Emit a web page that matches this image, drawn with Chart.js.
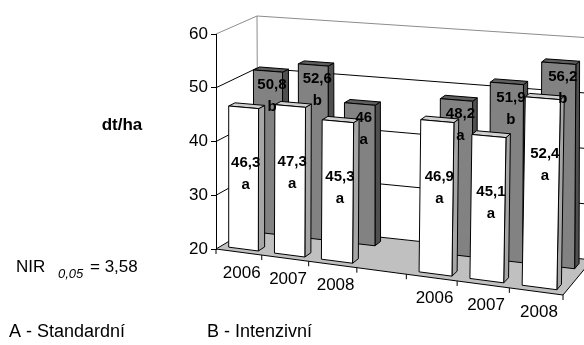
<!DOCTYPE html>
<html>
<head>
<meta charset="utf-8">
<script src="https://cdn.jsdelivr.net/npm/chart.js@4.4.1/dist/chart.umd.min.js"></script>
<style>
  html, body { margin: 0; padding: 0; background: #fff; }
  #chart { display: block; }
</style>
</head>
<body>
<canvas id="chart" width="584" height="345"></canvas>
<script>
// slots along the floor: two groups of years with an empty slot between them
const years = ["2006", "2007", "2008", "", "2006", "2007", "2008"];
const frontValues = [46.3, 47.3, 45.3, null, 46.9, 45.1, 52.4];
const backValues = [50.8, 52.6, 46, null, 48.2, 51.9, 56.2];
const frontLetters = ["a", "a", "a", null, "a", "a", "a"];
const backLetters = ["b", "b", "a", null, "a", "b", "b"];
const yTicks = [20, 30, 40, 50, 60];

const FONT = "'Liberation Sans', Arial, sans-serif";

// rough perspective of the 3D box (screen corners of the plot cube)
const WARP = 0.911;
function corners(area) {
  return {
    flb: [area.left, area.bottom], flt: [area.left, area.top],
    frb: [563, 295], frt: [568, 58],
    blb: [258, 224], blt: [257, 16],
    brb: [592, 260], brt: [592, 38]
  };
}
function lerp(a, b, s) {
  return [a[0] + (b[0] - a[0]) * s, a[1] + (b[1] - a[1]) * s];
}
function project(c, u, t, z) {
  const p = u * WARP / (1 + (WARP - 1) * u);
  const front = lerp(lerp(c.flb, c.frb, p), lerp(c.flt, c.frt, p), t);
  const back = lerp(lerp(c.blb, c.brb, p), lerp(c.blt, c.brt, p), t);
  return lerp(front, back, z);
}
function toU(area, px) { return (px - area.left) / (area.right - area.left); }
function toT(area, py) {
  const t = (area.bottom - py) / (area.bottom - area.top);
  return Math.min(1, Math.max(0, t));
}

function poly(ctx, pts, fill, stroke) {
  ctx.beginPath();
  pts.forEach((p, i) => (i ? ctx.lineTo(p[0], p[1]) : ctx.moveTo(p[0], p[1])));
  ctx.closePath();
  if (fill) { ctx.fillStyle = fill; ctx.fill(); }
  if (stroke) { ctx.strokeStyle = stroke; ctx.lineWidth = 1; ctx.stroke(); }
}
function line(ctx, pts, color) {
  ctx.beginPath();
  pts.forEach((p, i) => (i ? ctx.lineTo(p[0], p[1]) : ctx.moveTo(p[0], p[1])));
  ctx.strokeStyle = color;
  ctx.lineWidth = 1;
  ctx.stroke();
}

const ROWS = [
  { z0: 0.115, z1: 0.27, front: "#ffffff", top: "#d0d0d0", side: "#a6a6a6", dy: 56 },
  { z0: 0.72, z1: 0.87, front: "#828282", top: "#5e5e5e", side: "#4f4f4f", dy: 14, dx: 4 }
];
const letterSets = [frontLetters, backLetters];

function barBoxes(chart, idx) {
  const area = chart.chartArea;
  const row = ROWS[idx];
  const out = [];
  chart.getDatasetMeta(idx).data.forEach((bar, i) => {
    const v = chart.data.datasets[idx].data[i];
    if (v == null) return;
    const p = bar.getProps(["x", "y", "base", "width"], true);
    out.push({
      i, v,
      u0: toU(area, p.x - p.width / 2), u1: toU(area, p.x + p.width / 2),
      t0: toT(area, p.base), t1: toT(area, p.y),
      z0: row.z0, z1: row.z1
    });
  });
  return out;
}

const box3d = {
  id: "box3d",
  beforeDraw(chart) {
    const ctx = chart.ctx, area = chart.chartArea, c = corners(area);
    const P = (u, t, z) => project(c, u, t, z);
    ctx.save();
    poly(ctx, [P(0, 0, 0), P(1, 0, 0), P(1, 0, 1), P(0, 0, 1)], "#c0c0c0");
    poly(ctx, [P(0, 0, 1), P(1, 0, 1), P(1, 1, 1), P(0, 1, 1)], "#ffffff");
    poly(ctx, [P(0, 0, 0), P(0, 0, 1), P(0, 1, 1), P(0, 1, 0)], "#ffffff");
    const ys = chart.scales.y;
    ys.ticks.forEach(tk => {
      const t = toT(area, ys.getPixelForValue(tk.value));
      line(ctx, [P(0, t, 0), P(0, t, 1), P(1, t, 1)], t > 0.999 ? "#8c8c8c" : "#000");
    });
    line(ctx, [P(0, 1, 1), P(0, 0, 1)], "#8c8c8c");
    line(ctx, [P(0, 0, 0), P(1, 0, 0), P(1, 0, 1)], "#000");
    const xs = chart.scales.x;
    for (let i = 0; i <= years.length; i++) {
      const q = P(toU(area, xs.getPixelForValue(i - 0.5)), 0, 0);
      line(ctx, [q, [q[0], q[1] + 5]], "#000");
    }
    ctx.restore();
  },
  afterDatasetsDraw(chart) {
    const ctx = chart.ctx, c = corners(chart.chartArea);
    const P = (u, t, z) => project(c, u, t, z);
    ctx.save();
    ctx.lineJoin = "round";
    [1, 0].forEach(idx => {
      const row = ROWS[idx];
      barBoxes(chart, idx).forEach(b => {
        poly(ctx, [P(b.u1, b.t0, b.z0), P(b.u1, b.t0, b.z1), P(b.u1, b.t1, b.z1), P(b.u1, b.t1, b.z0)], row.side, "#000");
        poly(ctx, [P(b.u0, b.t1, b.z0), P(b.u1, b.t1, b.z0), P(b.u1, b.t1, b.z1), P(b.u0, b.t1, b.z1)], row.top, "#000");
        poly(ctx, [P(b.u0, b.t0, b.z0), P(b.u1, b.t0, b.z0), P(b.u1, b.t1, b.z0), P(b.u0, b.t1, b.z0)], row.front, "#000");
      });
    });
    ctx.restore();
  },
  afterDraw(chart) {
    const ctx = chart.ctx, area = chart.chartArea, c = corners(area);
    const P = (u, t, z) => project(c, u, t, z);
    ctx.save();
    ctx.fillStyle = "#000";
    ctx.textBaseline = "middle";
    ctx.textAlign = "center";
    // bar value labels
    ctx.font = "bold 15px " + FONT;
    [1, 0].forEach(idx => {
      const row = ROWS[idx];
      barBoxes(chart, idx).forEach(b => {
        const a = P(b.u0, b.t1, b.z0), e = P(b.u1, b.t1, b.z0);
        const x = (a[0] + e[0]) / 2 + (row.dx || 2);
        const y = (a[1] + e[1]) / 2 + row.dy;
        ctx.fillText(String(b.v).replace(".", ","), x, y);
        ctx.fillText(letterSets[idx][b.i], x, y + 22);
      });
    });
    // category labels along the slanted front edge
    ctx.font = "17px " + FONT;
    const xs = chart.scales.x;
    chart.data.labels.forEach((lab, i) => {
      if (!lab) return;
      const q = P(toU(area, xs.getPixelForValue(i)), 0, 0);
      ctx.fillText(lab, q[0] + 3, q[1] + 21);
    });
    // side texts
    ctx.font = "bold 17px " + FONT;
    ctx.fillText("dt/ha", 122, 125);
    ctx.textAlign = "left";
    ctx.font = "17px " + FONT;
    ctx.fillText("NIR", 16, 267);
    ctx.font = "italic 13px " + FONT;
    ctx.fillText("0,05", 58, 274);
    ctx.font = "17px " + FONT;
    ctx.fillText("= 3,58", 90, 267);
    ctx.font = "18px " + FONT;
    ctx.fillText("A - Standardní", 9, 332);
    ctx.fillText("B - Intenzivní", 207, 332);
    ctx.restore();
  }
};

new Chart(document.getElementById("chart"), {
  type: "bar",
  data: {
    labels: years,
    datasets: [
      { label: "front", data: frontValues, grouped: false, backgroundColor: "rgba(0,0,0,0)", borderWidth: 0 },
      { label: "back", data: backValues, grouped: false, backgroundColor: "rgba(0,0,0,0)", borderWidth: 0 }
    ]
  },
  options: {
    responsive: false,
    animation: false,
    devicePixelRatio: 1,
    events: [],
    layout: { padding: { left: 0, top: 34, right: 21, bottom: 96 } },
    datasets: { bar: { barPercentage: 0.65, categoryPercentage: 1 } },
    plugins: { legend: { display: false }, tooltip: { enabled: false } },
    scales: {
      x: { display: false },
      y: {
        min: yTicks[0],
        max: yTicks[yTicks.length - 1],
        afterFit(scale) { scale.width = 216; },
        ticks: { stepSize: yTicks[1] - yTicks[0], color: "#000", padding: 3, font: { family: FONT, size: 17 } },
        grid: { drawOnChartArea: false, drawTicks: true, tickLength: 5, color: "#000" },
        border: { display: true, color: "#000" }
      }
    }
  },
  plugins: [box3d]
});
</script>
</body>
</html>
